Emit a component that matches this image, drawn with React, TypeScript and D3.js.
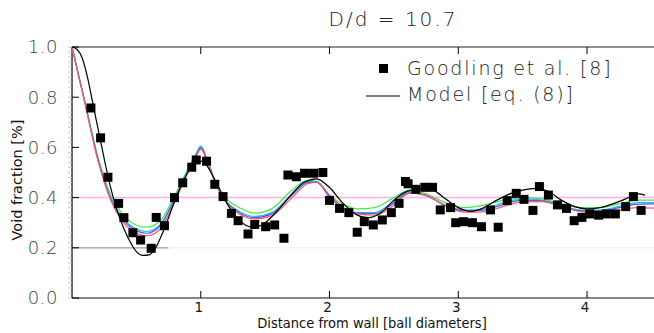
import React, { FC, useEffect, useRef } from "react"
import { select, scaleLinear, line, curveMonotoneX, range } from "d3"

// measured points (Goodling et al.)
const dataX = [
  0.147, 0.222, 0.279, 0.362, 0.403, 0.473, 0.533, 0.615, 0.654, 0.718, 0.796, 0.86, 0.93, 0.965,
  1.045, 1.109, 1.173, 1.238, 1.29, 1.367, 1.419, 1.504, 1.574, 1.646, 1.677, 1.742, 1.806, 1.876,
  1.948, 2.0, 2.078, 2.15, 2.215, 2.27, 2.34, 2.41, 2.48, 2.54, 2.59, 2.61, 2.67, 2.74, 2.8, 2.86,
  2.94, 2.98, 3.04, 3.11, 3.18, 3.25, 3.31, 3.38, 3.45, 3.51, 3.58, 3.63, 3.7, 3.77, 3.84, 3.9,
  3.96, 4.02, 4.09, 4.15, 4.22, 4.3, 4.36, 4.42,
]
const dataY = [
  0.757, 0.638, 0.481, 0.377, 0.32, 0.26, 0.231, 0.198, 0.321, 0.288, 0.4, 0.459, 0.521, 0.55,
  0.545, 0.453, 0.404, 0.337, 0.308, 0.255, 0.293, 0.284, 0.291, 0.238, 0.49, 0.483, 0.497, 0.497,
  0.5, 0.389, 0.357, 0.34, 0.262, 0.304, 0.291, 0.311, 0.34, 0.377, 0.464, 0.455, 0.433, 0.441, 0.441, 0.351,
  0.36, 0.3, 0.304, 0.3, 0.284, 0.351, 0.282, 0.388, 0.417, 0.393, 0.349, 0.444, 0.41, 0.371, 0.357, 0.308,
  0.321, 0.335, 0.33, 0.335, 0.335, 0.364, 0.404, 0.349,
]

// model [eq. (8)] black curve
const modelX = [
  0, 0.04, 0.08, 0.12, 0.16, 0.2, 0.25, 0.3, 0.35, 0.4, 0.45, 0.5, 0.55, 0.6, 0.65, 0.7, 0.75, 0.8,
  0.85, 0.9, 0.95, 1.0, 1.05, 1.1, 1.15, 1.2, 1.25, 1.3, 1.35, 1.4, 1.45, 1.5, 1.6, 1.7, 1.8, 1.9,
  2.0, 2.1, 2.2, 2.3, 2.4, 2.5, 2.6, 2.7, 2.8, 2.9, 3.0, 3.1, 3.2, 3.3, 3.4, 3.5, 3.6, 3.7, 3.8,
  3.9, 4.0, 4.1, 4.2, 4.3, 4.4, 4.45,
]
const modelY = [
  1.0, 0.99, 0.955, 0.88, 0.78, 0.68, 0.555, 0.44, 0.35, 0.28, 0.225, 0.185, 0.17, 0.172, 0.2, 0.255,
  0.32, 0.39, 0.45, 0.5, 0.535, 0.545, 0.525, 0.48, 0.43, 0.38, 0.34, 0.31, 0.29, 0.282, 0.285, 0.3,
  0.35, 0.41, 0.46, 0.475, 0.44, 0.38, 0.335, 0.32, 0.34, 0.39, 0.425, 0.435, 0.43, 0.395, 0.36,
  0.345, 0.36, 0.39, 0.415, 0.43, 0.437, 0.425, 0.39, 0.365, 0.355, 0.36, 0.375, 0.395, 0.415, 0.41,
]

// coloured model variants, shared x grid
const variantX = [
  0, 0.1, 0.2, 0.3, 0.4, 0.5, 0.58, 0.68, 0.8, 0.9, 0.96, 1.0, 1.05, 1.12, 1.2, 1.3, 1.42, 1.55, 1.7,
  1.83, 1.9, 2.0, 2.1, 2.22, 2.35, 2.5, 2.62, 2.75, 2.9, 3.05, 3.2, 3.35, 3.5, 3.65, 3.8, 3.95, 4.1,
  4.25, 4.4, 4.55,
]
const cyanY = [
  1.0, 0.78, 0.56, 0.4, 0.315, 0.275, 0.265, 0.29, 0.4, 0.51, 0.57, 0.605, 0.55, 0.45, 0.385, 0.345,
  0.325, 0.34, 0.41, 0.465, 0.465, 0.4, 0.36, 0.34, 0.34, 0.385, 0.425, 0.41, 0.37, 0.35, 0.355, 0.38,
  0.395, 0.39, 0.37, 0.35, 0.35, 0.365, 0.38, 0.38,
]
const blueY = [
  1.0, 0.78, 0.555, 0.395, 0.31, 0.268, 0.258, 0.285, 0.395, 0.505, 0.565, 0.6, 0.548, 0.448, 0.382,
  0.34, 0.32, 0.335, 0.405, 0.46, 0.462, 0.405, 0.362, 0.338, 0.336, 0.378, 0.42, 0.408, 0.368, 0.347,
  0.35, 0.373, 0.39, 0.387, 0.367, 0.347, 0.346, 0.36, 0.374, 0.375,
]
const greenY = [
  1.0, 0.78, 0.565, 0.41, 0.33, 0.29, 0.282, 0.305, 0.41, 0.515, 0.57, 0.598, 0.55, 0.455, 0.395, 0.36,
  0.338, 0.355, 0.425, 0.47, 0.462, 0.41, 0.375, 0.355, 0.36, 0.4, 0.43, 0.415, 0.38, 0.36, 0.37, 0.39,
  0.4, 0.395, 0.375, 0.36, 0.36, 0.375, 0.39, 0.39,
]
const redY = [
  1.0, 0.775, 0.55, 0.39, 0.3, 0.258, 0.248, 0.272, 0.385, 0.5, 0.56, 0.592, 0.545, 0.45, 0.38, 0.335,
  0.315, 0.327, 0.395, 0.455, 0.462, 0.41, 0.362, 0.335, 0.33, 0.37, 0.418, 0.41, 0.366, 0.342, 0.343,
  0.365, 0.383, 0.384, 0.365, 0.344, 0.34, 0.35, 0.36, 0.357,
]

const variants = [
  { name: "green", color: "#4ee24e", values: greenY },
  { name: "cyan", color: "#19c6e6", values: cyanY },
  { name: "blue", color: "#5555ff", values: blueY },
  { name: "red", color: "#ff5a5a", values: redY },
]

const xTicks = [1, 2, 3, 4]
const yTicks = [0, 0.2, 0.4, 0.6, 0.8, 1.0]
const meanVoid = 0.4

const title = "D/d = 10.7"
const xLabel = "Distance from wall [ball diameters]"
const yLabel = "Void fraction [%]"
const legendPoints = "Goodling et al. [8]"
const legendModel = "Model [eq. (8)]"

type P = [number, number]

const App: FC = () => {
  const wrapperRef = useRef<HTMLDivElement>(null)

  useEffect(() => {
    const width = 654
    const height = 333
    const left = 72
    const top = 47
    const bottom = 298

    select(wrapperRef.current).selectAll("*").remove()

    const svg = select(wrapperRef.current)
      .append("svg")
      .attr("width", width)
      .attr("height", height)
      .style("position", "absolute")
      .style("left", "0px")
      .style("top", "0px")
      .style("background", "#fff")

    const xScale = scaleLinear().domain([0, 4.52]).range([left, width])
    const yScale = scaleLinear().domain([0, 1]).range([bottom, top])

    const thin = "'DejaVu Sans', sans-serif"

    // scan-like faint line at 0.2
    svg.append("line")
      .attr("x1", xScale(0)).attr("x2", xScale(0.75))
      .attr("y1", yScale(0.2)).attr("y2", yScale(0.2))
      .attr("stroke", "#999").attr("stroke-width", 1.2)
    svg.append("line")
      .attr("x1", xScale(0.75)).attr("x2", width)
      .attr("y1", yScale(0.2)).attr("y2", yScale(0.2))
      .attr("stroke", "#eee").attr("stroke-width", 1)

    // mean line
    svg.append("line")
      .attr("x1", xScale(0)).attr("x2", width)
      .attr("y1", yScale(meanVoid)).attr("y2", yScale(meanVoid))
      .attr("stroke", "#f7b0f2").attr("stroke-width", 1.5)

    // frame
    svg.append("line")
      .attr("x1", left).attr("x2", left).attr("y1", top).attr("y2", bottom)
      .attr("stroke", "#000").attr("stroke-width", 1.2)
    svg.append("line")
      .attr("x1", left).attr("x2", width).attr("y1", bottom).attr("y2", bottom)
      .attr("stroke", "#111").attr("stroke-width", 1.2)
    svg.append("line")
      .attr("x1", left).attr("x2", width).attr("y1", top).attr("y2", top)
      .attr("stroke", "#222").attr("stroke-width", 1)

    // minor y ticks
    svg.append("g")
      .selectAll("line")
      .data(range(0, 51))
      .join("line")
      .attr("x1", left - 4).attr("x2", left)
      .attr("y1", (i) => yScale(i / 50)).attr("y2", (i) => yScale(i / 50))
      .attr("stroke", "#bbb").attr("stroke-width", 0.8)

    // major y ticks + labels
    const yG = svg.append("g")
    yG.selectAll("line")
      .data(yTicks)
      .join("line")
      .attr("x1", left).attr("x2", left + 7)
      .attr("y1", (d) => yScale(d)).attr("y2", (d) => yScale(d))
      .attr("stroke", "#000")
    yG.selectAll("text")
      .data(yTicks)
      .join("text")
      .attr("x", 58)
      .attr("y", (d) => yScale(d))
      .attr("dy", "0.36em")
      .attr("text-anchor", "end")
      .attr("font-family", thin)
      .attr("font-weight", 200)
      .attr("font-size", 18)
      .attr("letter-spacing", 0.5)
      .attr("fill", "#444")
      .text((d) => d.toFixed(1))

    // x ticks
    const xG = svg.append("g")
    xG.selectAll("line.b")
      .data(xTicks)
      .join("line")
      .attr("class", "b")
      .attr("x1", (d) => xScale(d)).attr("x2", (d) => xScale(d))
      .attr("y1", bottom).attr("y2", bottom - 7)
      .attr("stroke", "#000")
    xG.selectAll("line.t")
      .data(xTicks)
      .join("line")
      .attr("class", "t")
      .attr("x1", (d) => xScale(d)).attr("x2", (d) => xScale(d))
      .attr("y1", top).attr("y2", top + 7)
      .attr("stroke", "#000")
    xG.selectAll("text")
      .data(xTicks)
      .join("text")
      .attr("x", (d) => xScale(d) - 2)
      .attr("y", 312)
      .attr("text-anchor", "middle")
      .attr("font-family", "'DejaVu Sans', sans-serif")
      .attr("font-size", 13.5)
      .attr("fill", "#111")
      .text((d) => String(d))

    // axis titles
    svg.append("text")
      .attr("x", 372).attr("y", 328)
      .attr("text-anchor", "middle")
      .attr("font-family", "'DejaVu Sans Condensed', 'DejaVu Sans', sans-serif")
      .attr("font-size", 14.5)
      .attr("fill", "#111")
      .text(xLabel)
    svg.append("text")
      .attr("transform", `translate(22, 180) rotate(-90)`)
      .attr("text-anchor", "middle")
      .attr("font-family", "'DejaVu Sans', sans-serif")
      .attr("font-size", 14.5)
      .attr("fill", "#111")
      .text(yLabel)

    // title
    svg.append("text")
      .attr("x", 393).attr("y", 26)
      .attr("text-anchor", "middle")
      .attr("font-family", thin)
      .attr("font-weight", 200)
      .attr("font-size", 20)
      .attr("letter-spacing", 2)
      .attr("fill", "#222")
      .text(title)

    // curves
    const lineGen = line<P>()
      .x((d) => xScale(d[0]))
      .y((d) => yScale(d[1]))
      .curve(curveMonotoneX)

    variants.forEach((v) => {
      const pts: P[] = variantX.map((x, i) => [x, v.values[i]])
      svg.append("path")
        .attr("d", lineGen(pts))
        .attr("fill", "none")
        .attr("stroke", v.color)
        .attr("stroke-width", 1.2)
    })

    const modelPts: P[] = modelX.map((x, i) => [x, modelY[i]])
    svg.append("path")
      .attr("d", lineGen(modelPts))
      .attr("fill", "none")
      .attr("stroke", "#000")
      .attr("stroke-width", 1.2)

    // data squares
    const s = 9
    svg.append("g")
      .selectAll("rect")
      .data(dataX.map((x, i) => [x, dataY[i]] as P))
      .join("rect")
      .attr("x", (d) => xScale(d[0]) - s / 2)
      .attr("y", (d) => yScale(d[1]) - s / 2)
      .attr("width", s)
      .attr("height", s)
      .attr("fill", "#000")

    // legend
    const lg = svg.append("g")
    lg.append("rect")
      .attr("x", 379).attr("y", 64).attr("width", 9).attr("height", 9)
      .attr("fill", "#000")
    lg.append("text")
      .attr("x", 407).attr("y", 75)
      .attr("font-family", thin)
      .attr("font-weight", 200)
      .attr("font-size", 19)
      .attr("letter-spacing", 1.8)
      .attr("fill", "#222")
      .text(legendPoints)
    lg.append("line")
      .attr("x1", 366).attr("x2", 400).attr("y1", 96).attr("y2", 96)
      .attr("stroke", "#000").attr("stroke-width", 1)
    lg.append("text")
      .attr("x", 407).attr("y", 101)
      .attr("font-family", thin)
      .attr("font-weight", 200)
      .attr("font-size", 19)
      .attr("letter-spacing", 1.8)
      .attr("fill", "#222")
      .text(legendModel)
  }, [])

  return <div ref={wrapperRef} id="wrapper" />
}

export default App
